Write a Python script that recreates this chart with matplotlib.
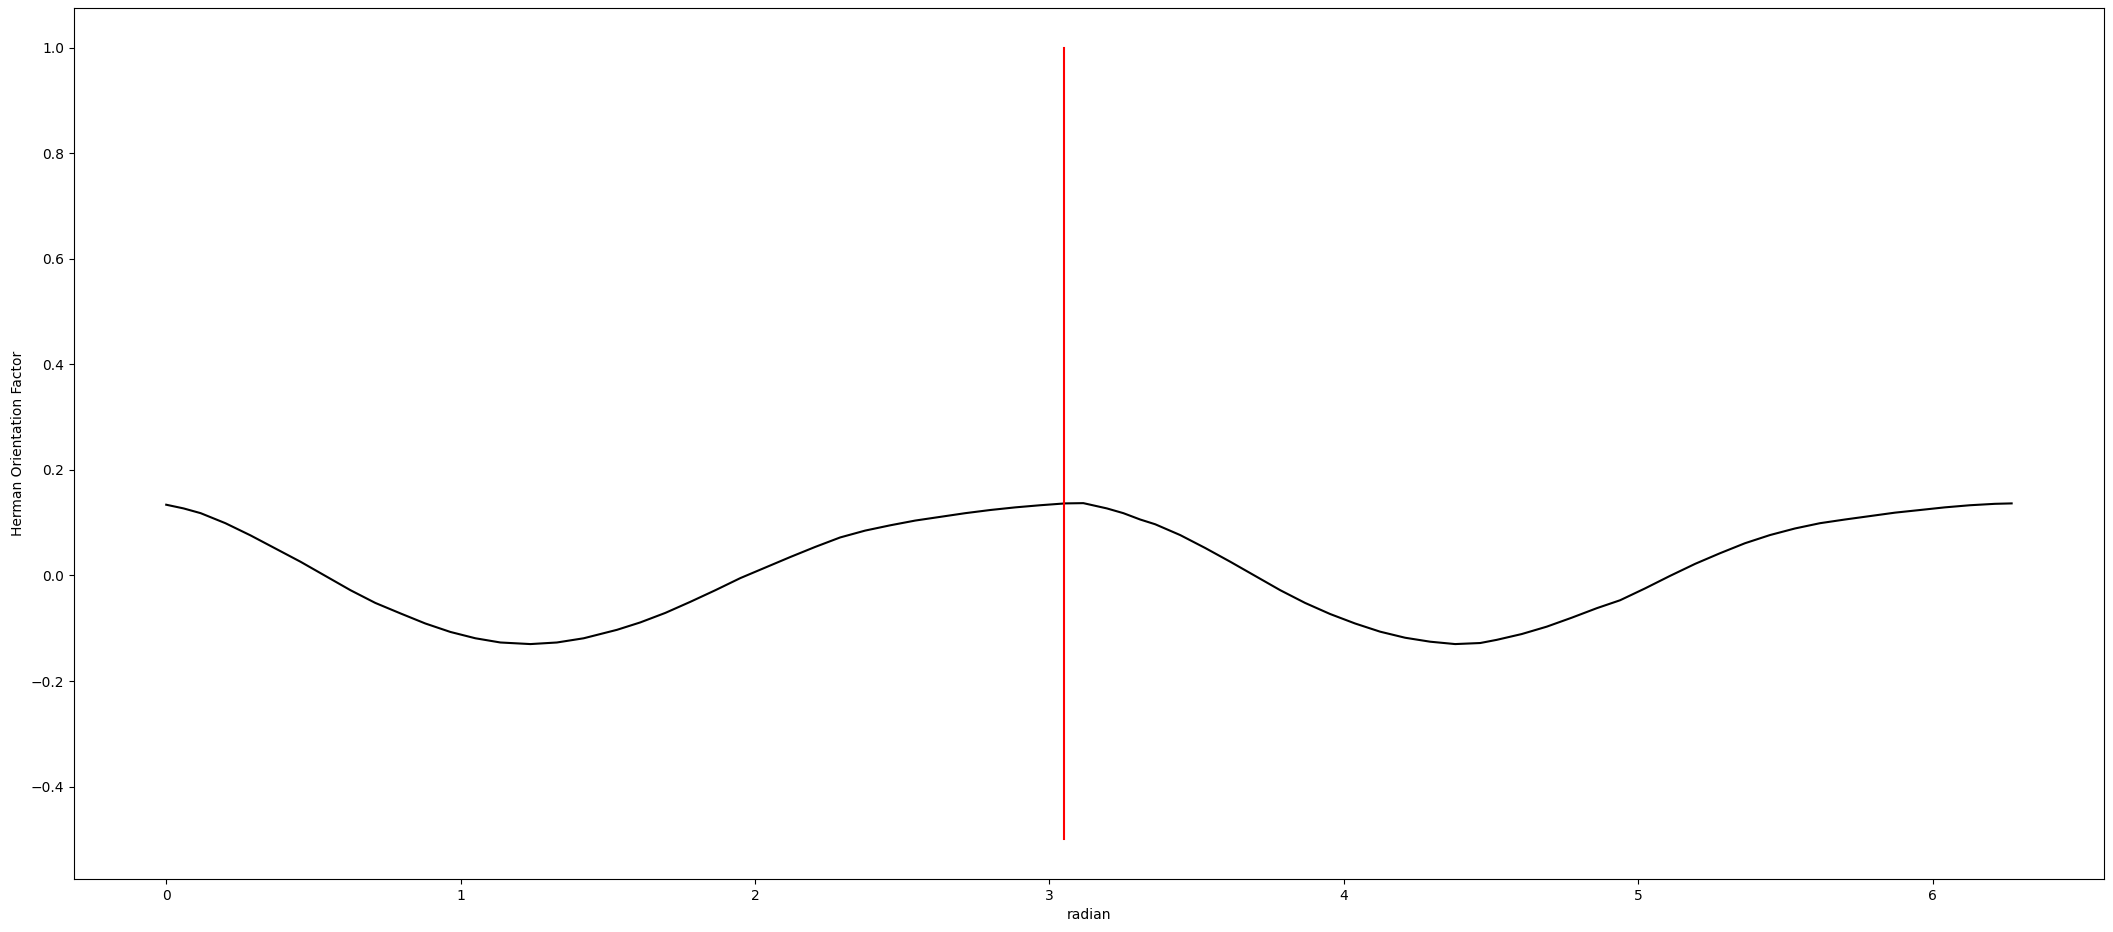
import numpy as np
import matplotlib
matplotlib.use('Agg')
import matplotlib.pyplot as plt

# values
radian = [0.000, 0.059, 0.117, 0.201, 0.286, 0.371, 0.456, 0.541, 0.626, 0.710,
          0.796, 0.880, 0.965, 1.050, 1.135, 1.237, 1.327, 1.418, 1.531, 1.610,
          1.695, 1.780, 1.865, 1.950, 2.035, 2.120, 2.204, 2.289, 2.374, 2.459,
          2.544, 2.629, 2.714, 2.799, 2.884, 2.968, 3.053, 3.115, 3.195, 3.251,
          3.308, 3.359, 3.444, 3.529, 3.614, 3.699, 3.784, 3.868, 3.953, 4.038,
          4.123, 4.208, 4.293, 4.378, 4.463, 4.519, 4.604, 4.689, 4.774, 4.859,
          4.938, 5.023, 5.107, 5.193, 5.277, 5.362, 5.447, 5.532, 5.617, 5.702,
          5.787, 5.872, 5.957, 6.041, 6.126, 6.211, 6.268]
herman = [0.134, 0.127, 0.118, 0.099, 0.076, 0.051, 0.026, -0.001, -0.028, -0.052,
          -0.072, -0.091, -0.107, -0.119, -0.127, -0.130, -0.127, -0.119, -0.103, -0.089,
          -0.071, -0.050, -0.028, -0.005, 0.015, 0.035, 0.054, 0.072, 0.085, 0.095,
          0.104, 0.111, 0.118, 0.124, 0.129, 0.133, 0.1365, 0.137, 0.127, 0.118,
          0.106, 0.097, 0.0765, 0.052, 0.026, -0.001, -0.028, -0.052, -0.073, -0.091,
          -0.1065, -0.118, -0.1255, -0.130, -0.128, -0.122, -0.111, -0.097, -0.080, -0.062,
          -0.047, -0.0245, -0.001, 0.022, 0.042, 0.061, 0.0765, 0.089, 0.099, 0.106,
          0.1125, 0.119, 0.124, 0.129, 0.133, 0.1357, 0.1365]

peak_x = 3.05
peak_ymin = -0.5
peak_ymax = 1.0

fig = plt.figure(figsize=(21.13, 9.32), dpi=100)
ax = fig.add_subplot(1, 1, 1)
fig.subplots_adjust(left=0.035, right=0.9957, top=0.9914, bottom=0.0569)

ax.plot(radian, herman, color='black')
ax.plot([peak_x, peak_x], [peak_ymin, peak_ymax], color='red')

ax.set_xlabel('radian')
ax.set_ylabel('Herman Orientation Factor')

fig.savefig('out.png', dpi=100)
